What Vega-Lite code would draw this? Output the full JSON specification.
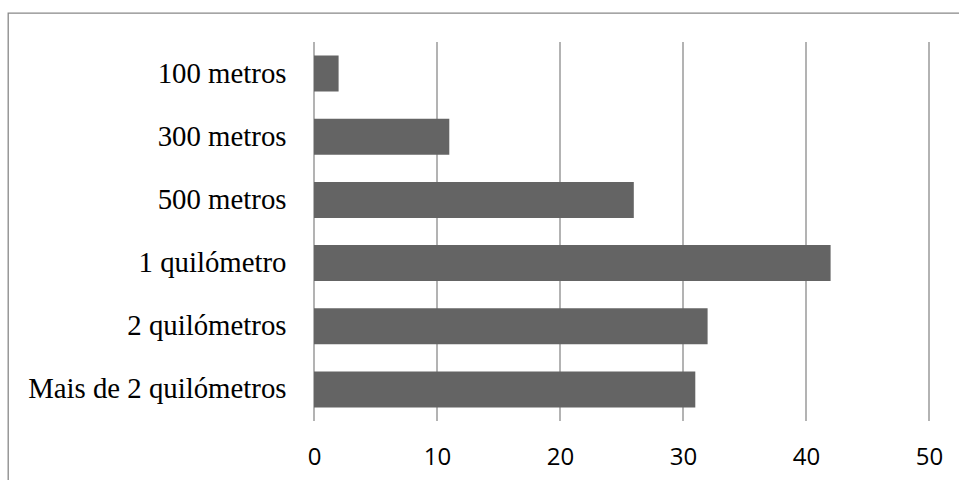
{
  "$schema": "https://vega.github.io/schema/vega-lite/v6.json",
  "autosize": "none",
  "padding": {"left": 8, "top": 13, "right": 0, "bottom": 0},
  "width": 1000,
  "height": 500,
  "background": "white",
  "config": {
    "view": {"stroke": "#888888", "strokeWidth": 1.3},
    "axis": {"grid": false, "ticks": false, "domain": false}
  },
  "layer": [
    {
      "data": {"values": [{"v": 0}, {"v": 10}, {"v": 20}, {"v": 30}, {"v": 40}, {"v": 50}]},
      "mark": {"type": "rule", "color": "#8a8a8a", "strokeWidth": 1.3},
      "encoding": {
        "x": {"field": "v", "type": "quantitative"},
        "y": {"datum": 0, "type": "quantitative", "scale": {"domain": [0, 1], "range": [29, 408]}, "axis": null},
        "y2": {"datum": 1}
      }
    },
    {
      "data": {"values": [
        {"categoria": "100 metros", "valor": 2},
        {"categoria": "300 metros", "valor": 11},
        {"categoria": "500 metros", "valor": 26},
        {"categoria": "1 quilómetro", "valor": 42},
        {"categoria": "2 quilómetros", "valor": 32},
        {"categoria": "Mais de 2 quilómetros", "valor": 31}
      ]},
      "mark": {"type": "bar", "color": "#646464"},
      "encoding": {
        "y": {
          "field": "categoria", "type": "nominal", "sort": null,
          "scale": {"range": [29, 408], "paddingInner": 0.43, "paddingOuter": 0.215},
          "axis": {"title": null, "offset": -306, "labelPadding": 28, "labelFont": "Liberation Serif", "labelFontSize": 28.8, "labelColor": "#000000", "labelLimit": 400}
        },
        "x": {
          "field": "valor", "type": "quantitative",
          "scale": {"domain": [0, 50], "range": [306, 921], "nice": false, "zero": true},
          "axis": {"title": null, "values": [0, 10, 20, 30, 40, 50], "offset": -92, "labelPadding": 24, "labelFont": "Open Sans", "labelFontSize": 24, "labelColor": "#000000", "labelFlush": false}
        }
      }
    }
  ],
  "resolve": {"scale": {"y": "independent"}}
}
